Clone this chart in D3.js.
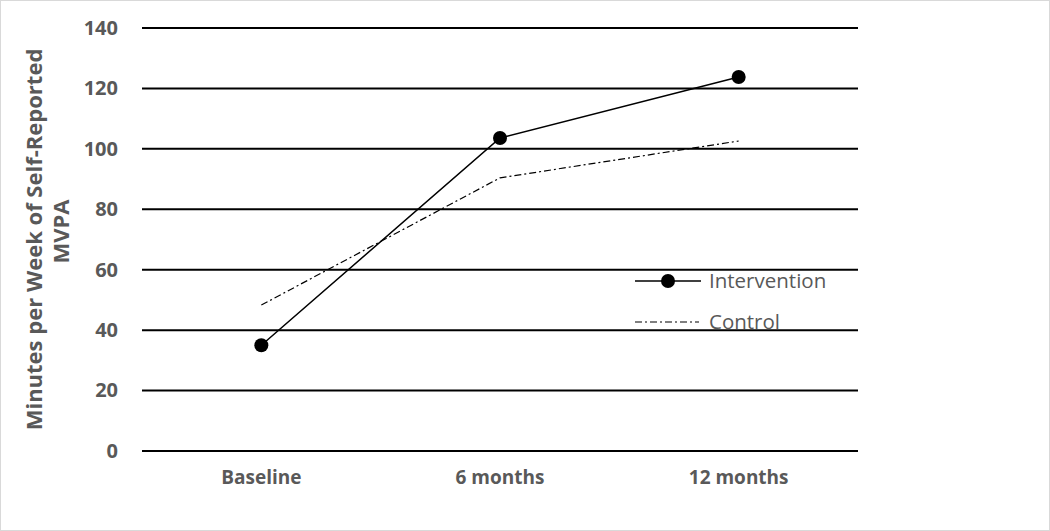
<!DOCTYPE html>
<html>
<head>
<meta charset="utf-8">
<script src="https://cdn.jsdelivr.net/npm/d3@7"></script>
<style>
  body { margin: 0; background: #fff; }
  text { font-family: "Open Sans", sans-serif; fill: #595959; }
</style>
</head>
<body>
<svg id="chart"></svg>
<script>
// data
const categories = ['Baseline', '6 months', '12 months'];
const intervention = [35, 103.6, 123.8];
const control = [48.3, 90.4, 102.6];
const yTicks = [0, 20, 40, 60, 80, 100, 120, 140];
const seriesNames = ['Intervention', 'Control'];

const width = 1050, height = 531;
const margin = {top: 28, right: 192, bottom: 80, left: 142};
const innerW = width - margin.left - margin.right;
const innerH = height - margin.top - margin.bottom;

const svg = d3.select('#chart')
    .attr('width', width)
    .attr('height', height);

// outer chart border
svg.append('rect')
    .attr('x', 0.5).attr('y', 0.5)
    .attr('width', width - 1).attr('height', height - 1)
    .attr('fill', '#fff')
    .attr('stroke', '#d9d9d9');

const chart = svg.append('g')
    .attr('transform', `translate(${margin.left},${margin.top})`);

const xScale = d3.scaleBand()
    .domain(categories)
    .range([0, innerW]);

const yScale = d3.scaleLinear()
    .domain([0, 140])
    .range([innerH, 0]);

// gridlines
chart.append('g')
    .selectAll('line')
    .data(yTicks)
    .enter()
    .append('line')
        .attr('x1', 0)
        .attr('x2', innerW)
        .attr('y1', d => yScale(d))
        .attr('y2', d => yScale(d))
        .attr('stroke', '#000')
        .attr('stroke-width', 2);

// y axis labels
const yAxis = d3.axisLeft(yScale)
    .tickValues(yTicks)
    .tickSize(0)
    .tickPadding(24);
const yAxisG = chart.append('g').call(yAxis);
yAxisG.select('.domain').remove();
yAxisG.selectAll('text')
    .attr('font-family', '"Open Sans", sans-serif')
    .attr('font-size', '20px')
    .attr('font-weight', 'bold')
    .attr('fill', '#595959');

// x axis labels
const xAxis = d3.axisBottom(xScale)
    .tickSize(0)
    .tickPadding(20);
const xAxisG = chart.append('g')
    .attr('transform', `translate(0,${innerH})`)
    .call(xAxis);
xAxisG.select('.domain').remove();
xAxisG.selectAll('text')
    .attr('font-family', '"Open Sans", sans-serif')
    .attr('font-size', '19px')
    .attr('font-weight', 'bold')
    .attr('fill', '#595959');

// y axis title, two lines
const titleG = chart.append('g')
    .attr('transform', `translate(-100,${innerH / 2}) rotate(-90)`);
titleG.append('text')
    .attr('text-anchor', 'middle')
    .attr('font-size', '22px')
    .attr('font-weight', 'bold')
    .text('Minutes per Week of Self-Reported');
titleG.append('text')
    .attr('text-anchor', 'middle')
    .attr('y', 27)
    .attr('x', 8)
    .attr('font-size', '22px')
    .attr('font-weight', 'bold')
    .text('MVPA');

const xc = d => xScale(d) + xScale.bandwidth() / 2;
const line = d3.line()
    .x(d => xc(d[0]))
    .y(d => yScale(d[1]));

// control line (dash-dot)
chart.append('path')
    .datum(categories.map((c, i) => [c, control[i]]))
    .attr('d', line)
    .attr('fill', 'none')
    .attr('stroke', '#000')
    .attr('stroke-width', 1.2)
    .attr('stroke-dasharray', '7,3,2,3');

// intervention line
const intData = categories.map((c, i) => [c, intervention[i]]);
chart.append('path')
    .datum(intData)
    .attr('d', line)
    .attr('fill', 'none')
    .attr('stroke', '#000')
    .attr('stroke-width', 1.5);

chart.selectAll('.dot')
    .data(intData)
    .enter()
    .append('circle')
        .attr('class', 'dot')
        .attr('cx', d => xc(d[0]))
        .attr('cy', d => yScale(d[1]))
        .attr('r', 7)
        .attr('fill', '#000');

// legend
const legend = svg.append('g')
    .attr('transform', 'translate(635,281)');
legend.append('line')
    .attr('x1', 0).attr('x2', 66)
    .attr('stroke', '#000').attr('stroke-width', 1.5);
legend.append('circle')
    .attr('cx', 33).attr('r', 7).attr('fill', '#000');
legend.append('text')
    .attr('x', 74).attr('dy', '0.35em')
    .attr('font-size', '20.5px')
    .text(seriesNames[0]);
legend.append('line')
    .attr('x1', 0).attr('x2', 64)
    .attr('y1', 41).attr('y2', 41)
    .attr('stroke', '#000').attr('stroke-width', 1.2)
    .attr('stroke-dasharray', '7,3,2,3');
legend.append('text')
    .attr('x', 74).attr('y', 41).attr('dy', '0.35em')
    .attr('font-size', '20.5px')
    .text(seriesNames[1]);
</script>
</body>
</html>
